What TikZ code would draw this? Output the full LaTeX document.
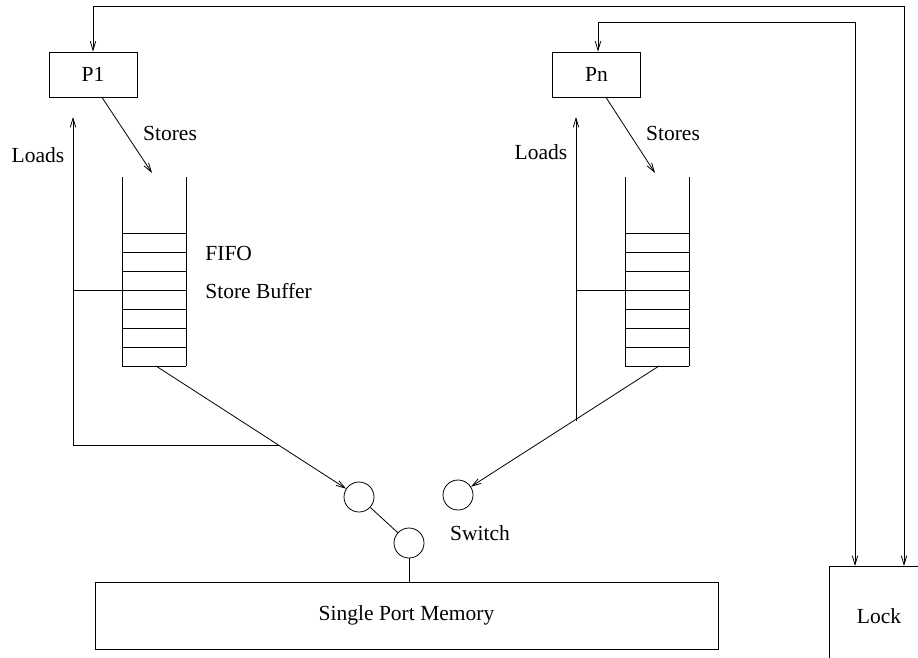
\documentclass[tikz,border=0pt]{standalone}
\usepackage{fontspec}
\setmainfont{Liberation Serif}
\usetikzlibrary{arrows.meta,calc}
\begin{document}
\begin{tikzpicture}[x=1pt,y=-1pt,
  line width=0.8pt,
  >={Straight Barb[length=9pt,width=5.5pt]},
  every node/.style={font=\fontsize{21.5}{25}\selectfont},
  procbox/.style={draw,minimum width=88pt,minimum height=45pt,inner sep=0pt},
  swnode/.style={draw,circle,minimum size=30pt,inner sep=0pt},
  lbl/.style={inner sep=0pt}]
\useasboundingbox (0,0) rectangle (918,657);
\clip (0,0) rectangle (918,657);

% processors
\node[procbox] (P1) at (93,74.5) {P1};
\node[procbox] (Pn) at (596.5,74.5) {Pn};

% memory and lock
\node[draw,minimum width=623pt,minimum height=67pt,inner sep=0pt] (mem) at (406.5,615.5) {Single Port Memory};
\node[draw,minimum width=100pt,minimum height=100pt,inner sep=0pt] (lock) at (879,616) {Lock};
\coordinate (lockA) at (855,566);
\coordinate (lockB) at (904,566);

% switch
\node[swnode] (sw1) at (359,497) {};
\node[swnode] (sw2) at (458,495) {};
\node[swnode] (sw3) at (409,543) {};
\node[lbl] (swl) at (480,533) {Switch};
\draw (sw1) -- (sw3);
\draw (sw3.south) -- (mem.north -| sw3.south);

% FIFO store buffers
\foreach \fx/\nm in {122/fa,625/fb}{
  \draw (\fx,177) -- (\fx,366);
  \draw (\fx+64,177) -- (\fx+64,366);
  \foreach \fy in {233,252,271,290,309,328,347,366}
    \draw (\fx,\fy) -- (\fx+64,\fy);
  \coordinate (\nm-tap) at (\fx,290);
  \coordinate (\nm-out) at (\fx+34,366);
  \coordinate (\nm-in) at (\fx+30,173);
}
\node[lbl,anchor=west] (fifo) at (205,253) {FIFO};
\node[lbl,anchor=west] (sbuf) at (205,291) {Store Buffer};

% stores
\draw[->] ($(P1.south)+(9,0)$) -- (fa-in);
\draw[->] ($(Pn.south)+(9.5,0)$) -- (fb-in);
\node[lbl] (st1) at (170,133) {Stores};
\node[lbl] (stn) at (673,133) {Stores};

% drain to switch, loads back to processors
\draw[->] (fa-out) -- (sw1);
\draw[->] (fb-out) -- (sw2);
\coordinate (ja) at (279,445);
\coordinate (jb) at (576,421);
\coordinate (la) at (73,117);
\coordinate (lb) at (576,117);
\draw[->] (ja) -- (73,445) -- (la);
\draw (fa-tap) -- (fa-tap -| la);
\draw[->] (jb) -- (lb);
\draw (fb-tap) -- (fb-tap -| lb);
\node[lbl] (ld1) at (38,155) {Loads};
\node[lbl] (ldn) at (541,152) {Loads};

% lock lines
\draw[<->] (P1.north) |- (904,6) -- (lockB);
\draw[<->] ($(Pn.north)+(1.5,0)$) |- (855,22) -- (lockA);
\end{tikzpicture}
\end{document}
